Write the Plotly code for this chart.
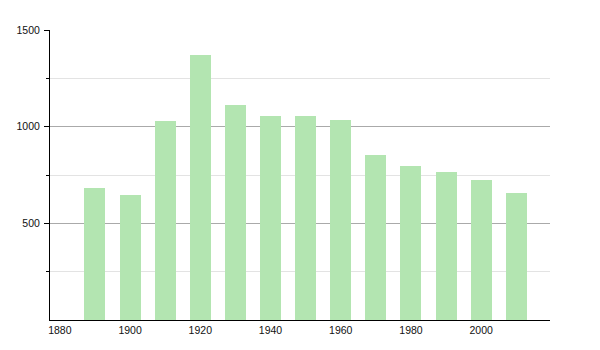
import plotly.graph_objects as go

years = [1890, 1900, 1910, 1920, 1930, 1940, 1950, 1960, 1970, 1980, 1990, 2000, 2010]
population = [685, 649, 1027, 1370, 1110, 1053, 1053, 1037, 851, 799, 768, 722, 655]
x_ticks = [1880, 1900, 1920, 1940, 1960, 1980, 2000]
y_ticks = [500, 1000, 1500]

fig = go.Figure(go.Bar(
    x=years, y=population, width=6,
    marker=dict(color="#b3e5b1", line=dict(width=0)),
    hoverinfo="x+y",
))

fig.update_layout(
    width=600, height=350,
    margin=dict(l=50, r=50, t=30, b=30, pad=0),
    paper_bgcolor="white", plot_bgcolor="white",
    showlegend=False,
    font=dict(family="Liberation Sans, Arial, sans-serif", size=10.5, color="#111"),
    bargap=0,
)
fig.update_xaxes(
    range=[1877.2, 2019.6],
    tickvals=x_ticks, ticktext=[str(v) for v in x_ticks],
    ticks="", showgrid=False, zeroline=False,
    showline=True, linecolor="black", linewidth=1,
)
fig.update_yaxes(
    range=[0, 1500],
    tickvals=y_ticks, ticktext=[str(v) for v in y_ticks],
    ticks="outside", ticklen=5, tickcolor="black", tickwidth=1,
    showgrid=True, gridcolor="#aaaaaa", gridwidth=1,
    zeroline=False, showline=True, linecolor="black", linewidth=1,
    ticklabelstandoff=2,
    minor=dict(tickvals=[250, 750, 1250], ticks="outside", ticklen=3,
               tickcolor="black", showgrid=True, gridcolor="#e3e3e3", gridwidth=1),
)

fig.write_html("out.html")
